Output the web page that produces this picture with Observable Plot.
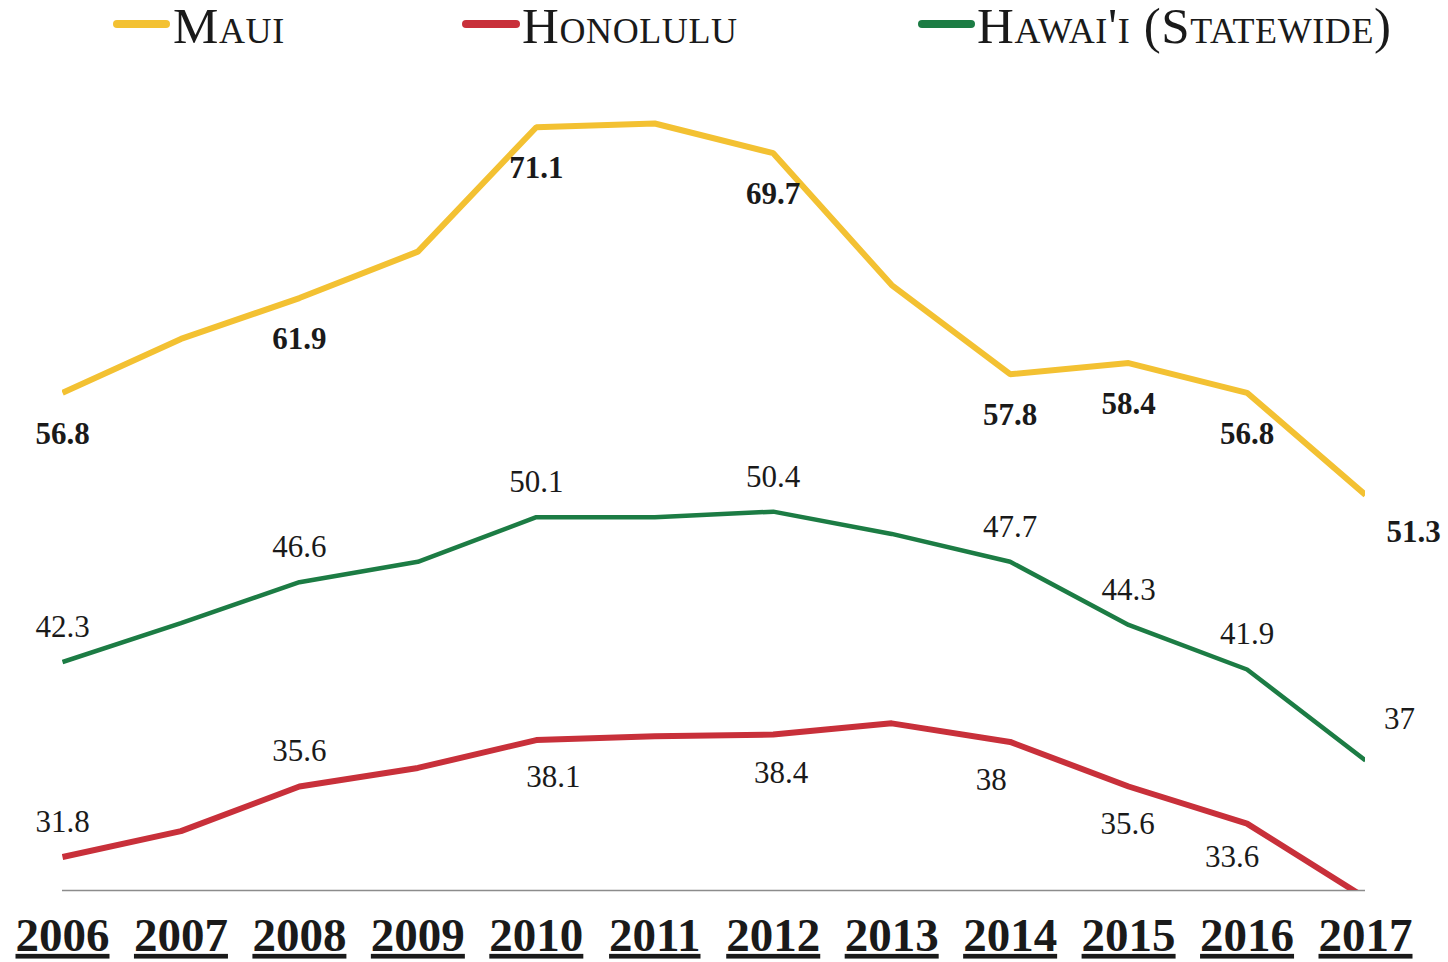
<!DOCTYPE html>
<html>
<head>
<meta charset="utf-8">
<script src="https://cdn.jsdelivr.net/npm/d3@7"></script>
<script src="https://cdn.jsdelivr.net/npm/@observablehq/plot@0.6"></script>
<style>
  html, body { margin: 0; padding: 0; background: #fff; }
  #wrap { width: 1448px; font-family: 'Liberation Serif', 'Times New Roman', serif; }
  #legend { position: relative; width: 1448px; height: 58px; }
  #legend .sw { position: absolute; top: 20px; height: 8px; border-radius: 4px; }
  #legend .lab { position: absolute; top: 1px; font-size: 51px; letter-spacing: 0.6px; line-height: 1; font-variant: small-caps; color: #1a1a1a; white-space: nowrap; }
  .chart g[aria-label="x-axis tick label"] text { text-decoration: underline; text-decoration-thickness: 4px; }
</style>
</head>
<body>
<div id="wrap">
  <div id="legend"></div>
  <div id="chart"></div>
</div>
<script>
const years = [2006, 2007, 2008, 2009, 2010, 2011, 2012, 2013, 2014, 2015, 2016, 2017];
const maui = [56.8, 59.7, 61.9, 64.4, 71.1, 71.3, 69.7, 62.6, 57.8, 58.4, 56.8, 51.3];
const honolulu = [31.8, 33.2, 35.6, 36.6, 38.1, 38.3, 38.4, 39.0, 38.0, 35.6, 33.6, 29.6];
const statewide = [42.3, 44.4, 46.6, 47.7, 50.1, 50.1, 50.4, 49.2, 47.7, 44.3, 41.9, 37.0];
const seriesNames = ["Maui", "Honolulu", "Hawai'i (Statewide)"];
const mauiLabelYears = [2006, 2008, 2010, 2012, 2014, 2015, 2016, 2017];
const statewideLabelYears = [2006, 2008, 2010, 2012, 2014, 2015, 2016, 2017];
const honoluluLabelYears = [2006, 2008, 2010, 2012, 2014, 2015, 2016];

const COLORS = { maui: "#F3C132", honolulu: "#C8303A", statewide: "#1C7C44" };

const rows = (vals) => years.map((year, i) => ({ year, value: vals[i] }));
const mauiRows = rows(maui), honRows = rows(honolulu), stRows = rows(statewide);
const pick = (rs, ys) => rs.filter(d => ys.includes(d.year));
const only = (rs, ys) => rs.filter(d => ys.includes(d.year));
const fmt = d => String(d.value);

// legend
const legend = document.getElementById("legend");
const legendLayout = [
  { name: seriesNames[0], color: COLORS.maui, sw: 113, w: 57, text: 173 },
  { name: seriesNames[1], color: COLORS.honolulu, sw: 462, w: 58, text: 522 },
  { name: seriesNames[2], color: COLORS.statewide, sw: 918, w: 57, text: 977 }
];
for (const l of legendLayout) {
  const s = document.createElement("div");
  s.className = "sw"; s.style.left = l.sw + "px"; s.style.width = l.w + "px"; s.style.background = l.color;
  legend.appendChild(s);
  const t = document.createElement("div");
  t.className = "lab"; t.style.left = l.text + "px"; t.textContent = l.name;
  legend.appendChild(t);
}

const labelFont = { fontSize: 31, fill: "#1a1a1a" };
const mauiLab = pick(mauiRows, mauiLabelYears);
const stLab = pick(stRows, statewideLabelYears);
const honLab = pick(honRows, honoluluLabelYears);

const chart = Plot.plot({
  width: 1448,
  height: 904,
  marginLeft: 62,
  marginRight: 83,
  marginTop: 52,
  marginBottom: 72,
  className: "chart",
  x: { domain: [2006, 2017], axis: null },
  y: { domain: [30, 72], axis: null },
  style: { fontFamily: "'Liberation Serif', 'Times New Roman', serif", background: "#fff", overflow: "visible" },
  marks: [
    Plot.ruleY([30], { stroke: "#8c8c8c", strokeWidth: 1.5 }),
    Plot.line(stRows, { x: "year", y: "value", stroke: COLORS.statewide, strokeWidth: 4.5, strokeLinejoin: "miter", strokeLinecap: "butt", clip: true }),
    Plot.line(honRows, { x: "year", y: "value", stroke: COLORS.honolulu, strokeWidth: 6, strokeLinejoin: "miter", strokeLinecap: "butt", clip: true }),
    Plot.line(mauiRows, { x: "year", y: "value", stroke: COLORS.maui, strokeWidth: 6, strokeLinejoin: "miter", strokeLinecap: "butt", clip: true }),
    // Maui labels (bold, below)
    Plot.text(mauiLab.filter(d => d.year !== 2017), { x: "year", y: "value", text: fmt, dy: 41, fontWeight: "bold", ...labelFont }),
    Plot.text(only(mauiLab, [2017]), { x: "year", y: "value", text: fmt, dx: 48, dy: 37, fontWeight: "bold", ...labelFont }),
    // Statewide labels (above)
    Plot.text(stLab.filter(d => d.year !== 2017), { x: "year", y: "value", text: fmt, dy: -35, ...labelFont }),
    Plot.text(only(stLab, [2017]), { x: "year", y: "value", text: fmt, dx: 34, dy: -41, ...labelFont }),
    // Honolulu labels
    Plot.text(only(honLab, [2006, 2008]), { x: "year", y: "value", text: fmt, dy: -35, ...labelFont }),
    Plot.text(only(honLab, [2010]), { x: "year", y: "value", text: fmt, dx: 17, dy: 37, ...labelFont }),
    Plot.text(only(honLab, [2012]), { x: "year", y: "value", text: fmt, dx: 8, dy: 39, ...labelFont }),
    Plot.text(only(honLab, [2014]), { x: "year", y: "value", text: fmt, dx: -19, dy: 38, ...labelFont }),
    Plot.text(only(honLab, [2015]), { x: "year", y: "value", text: fmt, dx: -1, dy: 38, ...labelFont }),
    Plot.text(only(honLab, [2016]), { x: "year", y: "value", text: fmt, dx: -15, dy: 33, ...labelFont }),
    Plot.axisX(years, { anchor: "bottom", label: null, tickSize: 0, tickPadding: 27, tickFormat: d => String(d), fontSize: 47, fontWeight: "bold", fill: "#1a1a1a" })
  ]
});
document.getElementById("chart").appendChild(chart);
</script>
</body>
</html>
